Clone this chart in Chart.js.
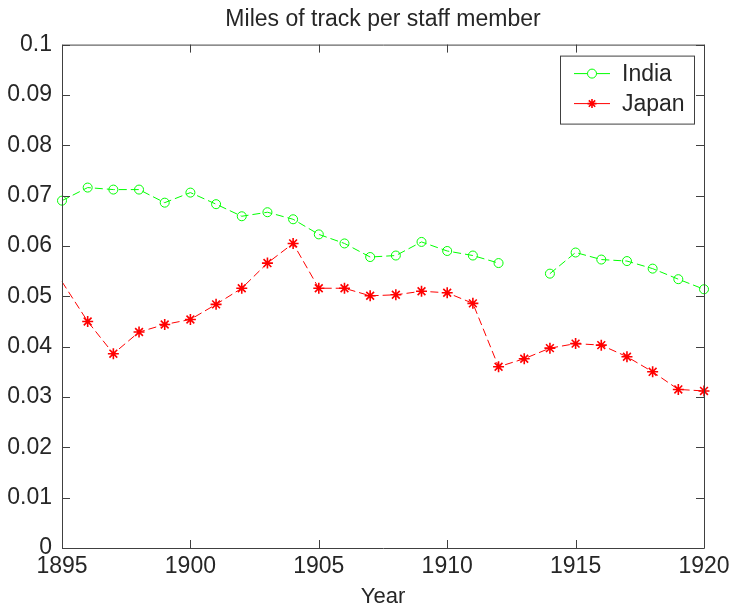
<!DOCTYPE html>
<html>
<head>
<meta charset="utf-8">
<script src="https://cdn.jsdelivr.net/npm/chart.js@4.4.1/dist/chart.umd.min.js"></script>
<style>
  html, body { margin: 0; padding: 0; background: #fff; }
  #wrap { width: 730px; height: 610px; }
</style>
</head>
<body>
<div id="wrap"><canvas id="trackChart" width="730" height="610"></canvas></div>
<script>
// data
const years = [1895, 1896, 1897, 1898, 1899, 1900, 1901, 1902, 1903, 1904, 1905, 1906, 1907,
  1908, 1909, 1910, 1911, 1912, 1913, 1914, 1915, 1916, 1917, 1918, 1919, 1920];
const india = [0.0690, 0.0716, 0.0712, 0.0712, 0.0686, 0.0706, 0.0683, 0.0659, 0.0667, 0.0653,
  0.0623, 0.0605, 0.0578, 0.0581, 0.0608, 0.0590, 0.0581, 0.0566, null, 0.0545,
  0.0587, 0.0573, 0.0570, 0.0555, 0.0534, 0.0514];
const japan = [0.0529, 0.0450, 0.0386, 0.0429, 0.0444, 0.0454, 0.0484, 0.0516, 0.0566, 0.0605,
  0.0516, 0.0516, 0.0501, 0.0503, 0.0510, 0.0507, 0.0486, 0.0360, 0.0376, 0.0397,
  0.0406, 0.0403, 0.0380, 0.0350, 0.0315, 0.0312];
const xTicks = [1895, 1900, 1905, 1910, 1915, 1920];
const yTicks = [0, 0.01, 0.02, 0.03, 0.04, 0.05, 0.06, 0.07, 0.08, 0.09, 0.1];

const FONT = "'Liberation Sans', Helvetica, Arial, sans-serif";
const INK = '#262626';

Chart.defaults.font.family = FONT;
Chart.defaults.color = INK;

function toPoints(vals) {
  return years.map((y, i) => ({ x: y, y: vals[i] }));
}

// matlab style box with inward ticks on all four sides
const boxTicks = {
  id: 'boxTicks',
  afterDatasetsDraw(chart) {
    const { ctx, chartArea: a, scales } = chart;
    const len = 8;
    ctx.save();
    ctx.strokeStyle = '#404040';
    ctx.lineWidth = 1;
    ctx.beginPath();
    ctx.rect(a.left + 0.5, a.top + 0.5, a.right - a.left, a.bottom - a.top);
    xTicks.forEach(t => {
      const px = Math.round(scales.x.getPixelForValue(t)) + 0.5;
      ctx.moveTo(px, a.bottom); ctx.lineTo(px, a.bottom - len);
      ctx.moveTo(px, a.top); ctx.lineTo(px, a.top + len);
    });
    yTicks.forEach(t => {
      const py = Math.round(scales.y.getPixelForValue(t)) + 0.5;
      ctx.moveTo(a.left, py); ctx.lineTo(a.left + len, py);
      ctx.moveTo(a.right, py); ctx.lineTo(a.right - len, py);
    });
    ctx.stroke();
    ctx.restore();
  }
};

// legend box in the upper right corner of the axes
const cornerLegend = {
  id: 'cornerLegend',
  afterDraw(chart) {
    const { ctx, chartArea: a } = chart;
    const boxW = 134, boxH = 68;
    const bx = a.right - 10 - boxW, by = a.top + 11;
    ctx.save();
    ctx.fillStyle = '#fff';
    ctx.fillRect(bx, by, boxW, boxH);
    ctx.strokeStyle = '#404040';
    ctx.lineWidth = 1;
    ctx.strokeRect(bx + 0.5, by + 0.5, boxW, boxH);
    chart.data.datasets.forEach((ds, i) => {
      const cy = by + 18 + i * 30;
      ctx.strokeStyle = ds.borderColor;
      ctx.lineWidth = 1;
      ctx.setLineDash([]);
      ctx.beginPath();
      ctx.moveTo(bx + 14, cy); ctx.lineTo(bx + 50, cy);
      ctx.stroke();
      ctx.lineWidth = ds.pointBorderWidth;
      Chart.helpers.drawPoint(ctx, {
        pointStyle: ds.pointStyle, radius: 4.5, borderWidth: ds.pointBorderWidth
      }, bx + 32, cy);
      ctx.fillStyle = INK;
      ctx.font = '23px ' + FONT;
      ctx.textBaseline = 'middle';
      ctx.fillText(ds.label, bx + 62, cy + 1);
    });
    ctx.restore();
  }
};

new Chart(document.getElementById('trackChart'), {
  type: 'line',
  data: {
    datasets: [
      {
        label: 'India',
        data: toPoints(india),
        borderColor: '#00ff00',
        borderWidth: 1,
        borderDash: [8, 4],
        pointStyle: 'circle',
        pointRadius: 4.5,
        pointBorderColor: '#00ff00',
        pointBackgroundColor: 'rgba(0,0,0,0)',
        pointBorderWidth: 1,
        spanGaps: false,
        clip: false
      },
      {
        label: 'Japan',
        data: toPoints(japan),
        borderColor: '#ff0000',
        borderWidth: 1,
        borderDash: [8, 4],
        pointStyle: 'star',
        pointRadius: ctx => ctx.dataIndex === 0 ? 0 : 5.5,
        pointBorderColor: '#ff0000',
        pointBackgroundColor: '#ff0000',
        pointBorderWidth: 1.6,
        clip: false
      }
    ]
  },
  options: {
    responsive: false,
    animation: false,
    layout: { padding: { left: 0, right: 26, top: 0, bottom: 0 } },
    plugins: {
      legend: { display: false },
      tooltip: { enabled: false },
      title: {
        display: true,
        fullSize: false,
        text: 'Miles of track per staff member',
        color: INK,
        font: { size: 23, weight: 'normal' },
        padding: { top: 6, bottom: 11 }
      }
    },
    scales: {
      x: {
        type: 'linear',
        min: 1895,
        max: 1920,
        afterBuildTicks: s => { s.ticks = xTicks.map(v => ({ value: v })); },
        afterFit: s => { s.height = 62; s.paddingLeft = 0; s.paddingRight = 0; },
        grid: { display: false, drawTicks: false },
        border: { display: false },
        ticks: {
          color: INK,
          font: { size: 23 },
          padding: 5,
          maxRotation: 0,
          autoSkip: false,
          callback: v => String(v)
        },
        title: {
          display: true,
          text: 'Year',
          color: INK,
          font: { size: 22 },
          padding: { top: 0, bottom: 0 }
        }
      },
      y: {
        min: 0,
        max: 0.1,
        afterBuildTicks: s => { s.ticks = yTicks.map(v => ({ value: v })); },
        afterFit: s => { s.width = 62; s.paddingTop = 0; s.paddingBottom = 0; },
        grid: { display: false, drawTicks: false },
        border: { display: false },
        ticks: {
          color: INK,
          font: { size: 23 },
          padding: 10,
          autoSkip: false,
          callback: v => String(parseFloat(v.toFixed(2)))
        }
      }
    }
  },
  plugins: [boxTicks, cornerLegend]
});
</script>
</body>
</html>
